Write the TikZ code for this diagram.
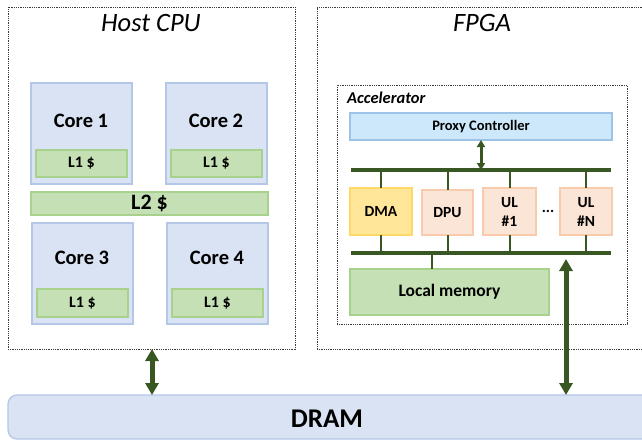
\documentclass[tikz,border=0pt]{standalone}
\usepackage{fontspec}
\setmainfont{Carlito}
\usetikzlibrary{arrows.meta}
\definecolor{coreF}{HTML}{DAE3F3}
\definecolor{coreB}{HTML}{B4C7E7}
\definecolor{grnF}{HTML}{C5E0B4}
\definecolor{grnB}{HTML}{A9D18E}
\definecolor{dkgrn}{HTML}{385723}
\definecolor{pxF}{HTML}{CDE8FA}
\definecolor{pxB}{HTML}{9DC3E6}
\definecolor{dmaF}{HTML}{FFE699}
\definecolor{dmaB}{HTML}{FFD966}
\definecolor{ulF}{HTML}{FBE5D6}
\definecolor{ulB}{HTML}{F8CBAD}
\definecolor{dotc}{HTML}{3A3A3A}
\begin{document}
\begin{tikzpicture}[x=1pt,y=-1pt,
  bx/.style={draw, line width=1.3pt, anchor=north west, inner sep=0pt, outer sep=0pt},
  corebox/.style={bx, fill=coreF, draw=coreB, minimum width=101pt, minimum height=101pt},
  grnbox/.style={bx, fill=grnF, draw=grnB},
  l1box/.style={grnbox, minimum width=91pt, minimum height=27pt, font=\bfseries\fontsize{16}{18}\selectfont},
  dotbox/.style={draw=dotc, dash pattern=on 0.9pt off 0.9pt, line width=1pt, anchor=north west, inner sep=0pt, outer sep=0pt},
  ulbox/.style={bx, fill=ulF, draw=ulB, align=center, font=\bfseries\fontsize{15.5}{19}\selectfont},
  coretxt/.style={anchor=base, font=\bfseries\fontsize{20.5}{23}\selectfont, inner sep=0pt},
  title/.style={anchor=base, font=\itshape\fontsize{26.5}{30}\selectfont, inner sep=0pt},
  bus/.style={draw=dkgrn, line width=4pt},
  tick/.style={draw=dkgrn, line width=2pt},
  bigarrow/.style={draw=dkgrn, line width=5pt, {Triangle[width=13pt,length=12pt]}-{Triangle[width=13pt,length=12pt]}},
  smallarrow/.style={draw=dkgrn, line width=3pt, {Triangle[width=8pt,length=7pt]}-{Triangle[width=8pt,length=7pt]}}
]
\path[use as bounding box] (0,0) rectangle (642,440);
\clip (0,0) rectangle (642,440);

% Host CPU
\node[dotbox, minimum width=287pt, minimum height=342pt] (host) at (8,7) {};
\node[title] (hostt) at (151,31) {Host CPU};
\node[corebox] (core1) at (31,83) {};
\node[corebox] (core2) at (166,83) {};
\node[corebox] (core3) at (32,223) {};
\node[corebox] (core4) at (167,223) {};
\node[coretxt] (c1t) at (81,127) {Core 1};
\node[coretxt] (c2t) at (216,127) {Core 2};
\node[coretxt] (c3t) at (82,264) {Core 3};
\node[coretxt] (c4t) at (217,264) {Core 4};
\node[l1box] (l1a) at (36,150) {L1 \$};
\node[l1box] (l1b) at (171,150) {L1 \$};
\node[l1box, minimum height=28pt] (l1c) at (37,289) {L1 \$};
\node[l1box, minimum height=28pt] (l1d) at (172,289) {L1 \$};
\node[grnbox, minimum width=237pt, minimum height=23pt, font=\bfseries\fontsize{22}{24}\selectfont] (l2) at (31,192) {L2 \$};

% FPGA
\node[dotbox, minimum width=330pt, minimum height=342pt] (fpga) at (317,7) {};
\node[title] (fpgat) at (482,31) {FPGA};
\node[dotbox, minimum width=290pt, minimum height=239pt] (acc) at (337,85) {};
\node[anchor=base west, inner sep=0pt, font=\bfseries\itshape\fontsize{16.5}{19}\selectfont] (acct) at (347,103) {Accelerator};
\node[bx, fill=pxF, draw=pxB, minimum width=262pt, minimum height=27pt, font=\bfseries\fontsize{14.5}{16}\selectfont] (proxy) at (350,113) {Proxy Controller};
\node[bx, fill=dmaF, draw=dmaB, minimum width=62pt, minimum height=47pt, font=\bfseries\fontsize{15.5}{19}\selectfont] (dma) at (350,188) {DMA};
\node[ulbox, minimum width=51pt, minimum height=45pt] (dpu) at (422,190) {DPU};
\node[ulbox, minimum width=53pt, minimum height=47pt] (ul1) at (483,188) {UL\\\#1};
\node[ulbox, minimum width=52pt, minimum height=47pt] (uln) at (560,188) {UL\\\#N};
\node[anchor=base, inner sep=0pt, font=\bfseries\fontsize{15.5}{18}\selectfont] (dots) at (548,212) {...};
\node[grnbox, minimum width=199pt, minimum height=46pt, font=\bfseries\fontsize{17.5}{20}\selectfont] (locmem) at (350,269) {Local memory};

% buses
\coordinate (busTL) at (351,170);
\coordinate (busTR) at (611,170);
\coordinate (busBL) at (351,253);
\coordinate (busBR) at (611,253);
\draw[bus] (busTL) -- (busTR);
\draw[bus] (busBL) -- (busBR);
\foreach \n in {dma,dpu,ul1,uln}{
  \draw[tick] (\n.north) -- (\n.north |- busTL);
  \draw[tick] (\n.south) -- (\n.south |- busBL);
}
\coordinate (lmx) at (432,0);
\draw[tick] (lmx |- busBL) -- (lmx |- locmem.north);
\draw[smallarrow] (proxy.south) -- (proxy.south |- busTL);

% DRAM
\node[bx, fill=coreF, draw=coreB, rounded corners=9pt, minimum width=700pt, minimum height=44pt] (dram) at (8,395) {};
\node[anchor=base, inner sep=0pt, font=\bfseries\fontsize{27}{30}\selectfont] (dramt) at (327,427) {DRAM};

% arrows to DRAM
\coordinate (hx) at (152,0);
\draw[bigarrow] (hx |- host.south) -- (hx |- dram.north);
\coordinate (bigA) at (566,259);
\draw[bigarrow] (bigA) -- (bigA |- dram.north);
\end{tikzpicture}
\end{document}
